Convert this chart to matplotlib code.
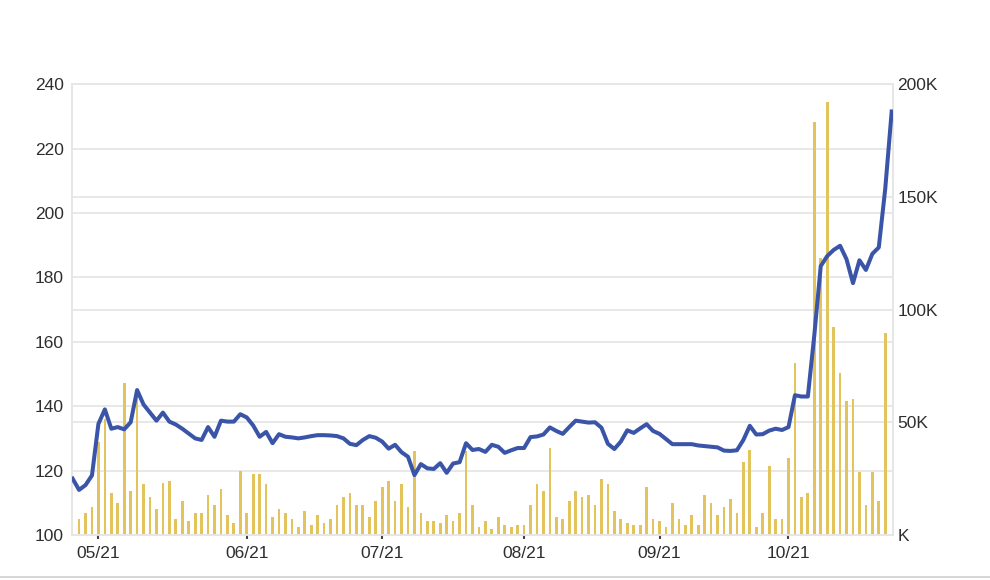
import numpy as np
import matplotlib
matplotlib.use("Agg")
import matplotlib.pyplot as plt
from matplotlib.lines import Line2D
from matplotlib.ticker import FuncFormatter

# closing price per session (left axis)
price = [117.5, 114.0, 115.5, 118.5, 134.5, 139.0, 133.0, 133.5, 132.8, 135.0,
         145.0, 140.5, 138.0, 135.5, 138.0, 135.2, 134.3, 133.0, 131.5, 130.0,
         129.5, 133.5, 130.5, 135.5, 135.2, 135.2, 137.5, 136.5, 134.0, 130.5,
         132.0, 128.5, 131.3, 130.5, 130.3, 130.0, 130.3, 130.7, 131.0, 131.0,
         130.9, 130.7, 130.0, 128.3, 127.9, 129.5, 130.7, 130.2, 129.0, 126.8,
         128.0, 125.7, 124.3, 118.6, 122.0, 120.7, 120.5, 122.3, 119.3, 122.2,
         122.6, 128.5, 126.4, 126.7, 125.8, 128.0, 127.4, 125.5, 126.3, 127.0,
         127.0, 130.4, 130.6, 131.2, 133.4, 132.3, 131.4, 133.5, 135.5, 135.2,
         134.9, 135.0, 133.3, 128.3, 126.7, 129.0, 132.5, 131.7, 133.1, 134.4,
         132.3, 131.4, 129.8, 128.2, 128.2, 128.2, 128.2, 127.8, 127.6, 127.4,
         127.2, 126.2, 126.1, 126.3, 129.5, 133.9, 131.2, 131.3, 132.4, 133.0,
         132.6, 133.5, 143.4, 143.0, 143.0, 162.0, 183.5, 186.6, 188.5, 189.8,
         185.6, 178.2, 185.3, 182.3, 187.3, 189.3, 207.5, 231.5]

# volume per session, in thousands (right axis)
volume_k = [0, 7.1, 9.9, 12.5, 41.4, 51.5, 18.8, 14.3, 67.3, 19.7,
            61.5, 22.5, 17.0, 11.7, 23.2, 24.1, 7.1, 15.2, 6.4, 9.9,
            9.9, 17.8, 13.3, 20.4, 8.9, 5.2, 28.4, 9.9, 26.9, 26.9,
            22.5, 7.8, 11.5, 9.9, 7.0, 3.4, 10.6, 4.4, 8.9, 5.5,
            7.1, 13.3, 16.9, 18.8, 13.3, 13.3, 7.8, 15.2, 21.4, 24.1,
            15.2, 22.5, 12.4, 37.3, 9.9, 6.4, 6.4, 5.2, 8.9, 6.4,
            9.9, 37.3, 13.3, 3.4, 6.4, 2.6, 7.8, 4.4, 3.4, 4.4,
            4.4, 13.3, 22.5, 19.7, 38.4, 7.8, 7.1, 15.2, 19.7, 16.9,
            17.9, 13.3, 25.0, 22.5, 10.6, 7.1, 5.2, 4.4, 4.4, 21.4,
            7.1, 6.4, 3.4, 14.3, 7.1, 4.4, 8.9, 4.4, 17.9, 14.3,
            8.9, 12.4, 16.0, 9.9, 32.2, 37.6, 3.4, 9.9, 30.6, 7.1,
            7.1, 34.0, 76.4, 16.9, 18.8, 183.3, 122.7, 192.2, 92.4, 71.7,
            59.4, 60.2, 27.8, 13.3, 27.8, 15.1, 89.7, 0]

# session index where each month starts
month_idx = [4, 27, 48, 70, 91, 111]
month_labels = ["05/21", "06/21", "07/21", "08/21", "09/21", "10/21"]

price_ticks = [100, 120, 140, 160, 180, 200, 220, 240]
vol_ticks = [0, 50000, 100000, 150000, 200000]

x = np.arange(len(price))
volume = np.array(volume_k) * 1000

plt.rcParams['font.family'] = ['Liberation Sans', 'DejaVu Sans']

fig = plt.figure(figsize=(9.9, 5.8), dpi=100)
ax = fig.add_axes([0.0727, 0.0776, 0.8293, 0.7774])
ax2 = ax.twinx()

# price axis in front of the volume bars
ax.set_zorder(ax2.get_zorder() + 1)
ax.patch.set_visible(False)

grid_c = "#e6e6e6"
text_c = "#2e2e2e"
fs = 12.5

ax2.bar(x, volume, width=0.42, color="#e2c35c", zorder=2)
ax.plot(x, price, color="#3a55a8", lw=2.9, solid_joinstyle="round", zorder=3)

ax.set_xlim(-0.1, 127.2)
ax.set_ylim(100, 240)
ax2.set_ylim(0, 200000)

ax.set_yticks(price_ticks)
ax2.set_yticks(vol_ticks)
ax2.yaxis.set_major_formatter(FuncFormatter(
    lambda v, p: "K" if v == 0 else f"{int(v / 1000)}K"))

# price grid drawn on the back axes so bars sit over it
ax2.set_yticks([(p - 100) / 140 * 200000 for p in price_ticks], minor=True)
ax2.grid(True, which="both", axis="y", color=grid_c, lw=1.3, zorder=0)
ax2.grid(True, which="major", axis="x", color=grid_c, lw=1.3, zorder=0)
ax2.tick_params(which="minor", length=0)

ax.set_xticks(month_idx)
ax.set_xticklabels(month_labels)
ax2.set_xticks(month_idx)

ax.tick_params(axis="y", length=0, pad=6, labelsize=fs, labelcolor=text_c)
ax2.tick_params(axis="y", length=0, pad=3, labelsize=fs, labelcolor=text_c)
ax.tick_params(axis="x", length=3, width=1.5, color="#444444", pad=5,
               labelsize=fs, labelcolor=text_c)

for a in (ax, ax2):
    for s in a.spines.values():
        s.set_color(grid_c)
        s.set_linewidth(1.3)

fig.add_artist(Line2D([0, 1], [0.005, 0.005], color="#d0d0d0", lw=1.2))

fig.savefig("out.png", dpi=100)
